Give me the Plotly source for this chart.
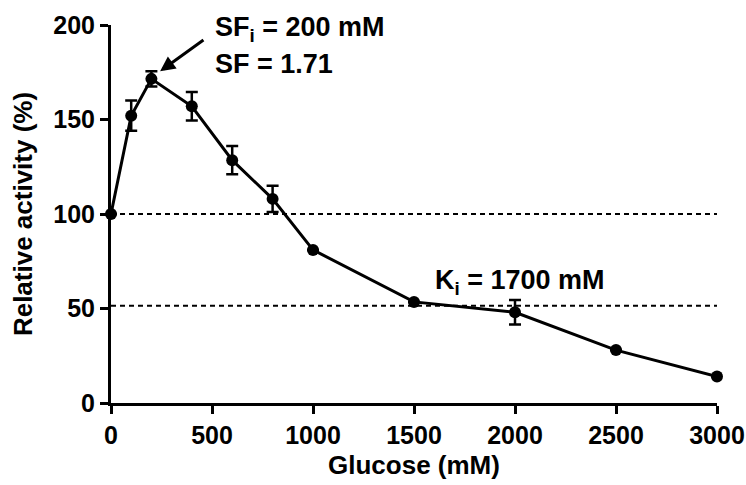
import plotly.graph_objects as go

glucose = [0, 100, 200, 400, 600, 800, 1000, 1500, 2000, 2500, 3000]
activity = [100, 152, 171.5, 157, 128.5, 108, 81, 53.5, 48, 28, 14]
error = [0, 8, 4, 7.5, 7.5, 7, 0, 0, 6.5, 0, 0]

ref_lines = [100, 51.5]
x_ticks = [0, 500, 1000, 1500, 2000, 2500, 3000]
y_ticks = [0, 50, 100, 150, 200]

FONT = "Liberation Sans, Arial, sans-serif"

fig = go.Figure()
fig.add_trace(go.Scatter(
    x=glucose, y=activity,
    mode="lines+markers",
    line=dict(color="black", width=3),
    marker=dict(color="black", size=12),
    error_y=dict(type="data", array=error, visible=True,
                 color="black", thickness=2.5, width=6),
    showlegend=False, cliponaxis=False,
))

for yv in ref_lines:
    fig.add_shape(type="line", xref="x", yref="y", x0=0, x1=3020, y0=yv, y1=yv,
                  line=dict(color="black", width=2, dash="5px,4px"), layer="below")

axis_common = dict(
    showline=True, linecolor="black", linewidth=3,
    ticks="outside", ticklen=8, tickwidth=3, tickcolor="black",
    showgrid=False, zeroline=False, automargin=False,
    tickfont=dict(family=FONT, size=25, color="black", weight="bold"),
)

fig.update_layout(
    width=746, height=485,
    margin=dict(l=111, r=29, t=25, b=82),
    paper_bgcolor="white", plot_bgcolor="white",
    xaxis=dict(range=[0, 3000], tickvals=x_ticks,
               title=dict(text="Glucose (mM)", standoff=8,
                          font=dict(family=FONT, size=26, color="black", weight="bold")),
               **axis_common),
    yaxis=dict(range=[0, 200], tickvals=y_ticks,
               title=dict(text="Relative activity (%)", standoff=14,
                          font=dict(family=FONT, size=26, color="black", weight="bold")),
               **axis_common),
)

ann_font = dict(family=FONT, size=27, color="black", weight="bold")
fig.add_annotation(x=505, y=198, xref="x", yref="y", text="SF<sub>i</sub> = 200 mM",
                   showarrow=False, xanchor="left", yanchor="middle", font=ann_font)
fig.add_annotation(x=505, y=179.6, xref="x", yref="y", text="SF = 1.71",
                   showarrow=False, xanchor="left", yanchor="middle", font=ann_font)
fig.add_annotation(x=243, y=175.5, xref="x", yref="y", ax=465, ay=192.6,
                   axref="x", ayref="y", text="", showarrow=True,
                   arrowhead=2, arrowsize=1, arrowwidth=3, arrowcolor="black")
fig.add_annotation(x=1594, y=64, xref="x", yref="y", text="K<sub>i</sub> = 1700 mM",
                   showarrow=False, xanchor="left", yanchor="middle", font=ann_font)

fig.write_html("out.html")
